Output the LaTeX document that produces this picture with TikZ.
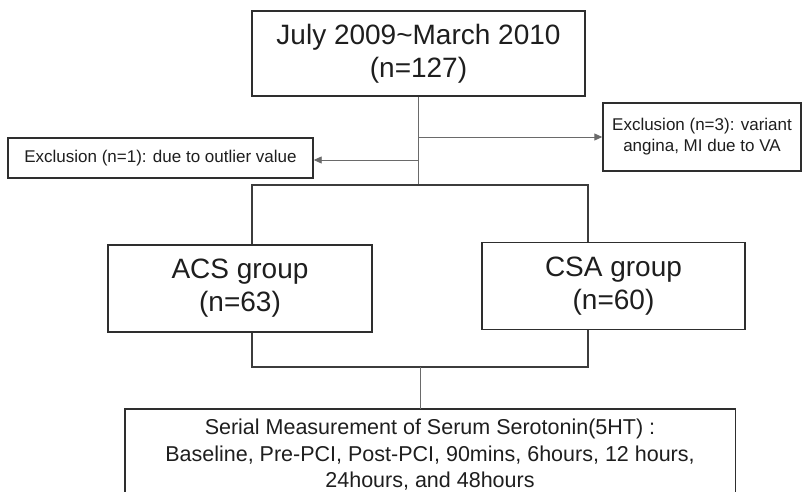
\documentclass[tikz,border=0pt]{standalone}
\usepackage{fontspec}
\setmainfont{Liberation Sans}
\usetikzlibrary{arrows.meta}
\definecolor{boxc}{HTML}{2E2E2E}
\definecolor{linec}{HTML}{6A6A6A}
\definecolor{brc}{HTML}{3C3C3C}
\definecolor{txt}{HTML}{1E1E1E}
\begin{document}
\begin{tikzpicture}[x=1pt,y=-1pt,
  box/.style={draw=boxc, line width=1.4pt, fill=white, align=center, inner sep=0pt, text=txt},
  bigtxt/.style={font=\fontsize{28}{33}\selectfont},
  smalltxt/.style={font=\fontsize{17}{21}\selectfont},
  conn/.style={draw=linec, line width=0.9pt},
  brack/.style={draw=brc, line width=1.2pt},
  arr/.style={conn, -{Triangle[length=8pt,width=7pt]}},
]
\useasboundingbox (0,0) rectangle (803,492);
\node[box, bigtxt, minimum width=333pt, minimum height=85pt] (top) at (418.5,53.5) {July 2009\textasciitilde March 2010\\(n=127)};
\node[box, smalltxt, minimum width=305pt, minimum height=40pt] (lex) at (160.5,158) {Exclusion (n=1): due to outlier value};
\node[box, smalltxt, minimum width=198pt, minimum height=68pt] (rex) at (702,137) {Exclusion (n=3): variant\\angina, MI due to VA};
\node[box, bigtxt, minimum width=264pt, minimum height=87pt] (acs) at (240,288.5) {ACS group\\(n=63)};
\node[box, bigtxt, minimum width=263pt, minimum height=87pt] (csa) at (613.5,286) {CSA group\\(n=60)};
\node[inner sep=0pt, minimum width=610pt, minimum height=83pt] (bot) at (430,450.5) {};
\node[align=center, inner sep=0pt, text=txt, font=\fontsize{21.5}{26.5}\selectfont] (bottxt) at (430,455) {Serial Measurement of Serum Serotonin(5HT) :\\Baseline, Pre-PCI, Post-PCI, 90mins, 6hours, 12 hours,\\24hours, and 48hours};
\draw[draw=boxc, line width=1.4pt] (bot.south west) -- (bot.north west) -- (bot.north east) -- (bot.south east);
% connectors
\coordinate (bl) at (252,185);
\coordinate (br) at (588,185);
\coordinate (cl) at (252,367);
\coordinate (cr) at (588,367);
\coordinate (cm) at (420,367);
\draw[conn] (top.south) -- (top.south |- bl);
\draw[arr] (top.south |- rex.west) -- (rex.west);
\draw[arr] (top.south |- 0,160) -- (lex.east |- 0,160);
\draw[brack] (bl |- acs.north) -- (bl) -- (br) -- (br |- csa.north);
\draw[brack] (bl |- acs.south) -- (cl) -- (cr) -- (br |- csa.south);
\draw[conn] (cm) -- (cm |- bot.north);
\end{tikzpicture}
\end{document}
